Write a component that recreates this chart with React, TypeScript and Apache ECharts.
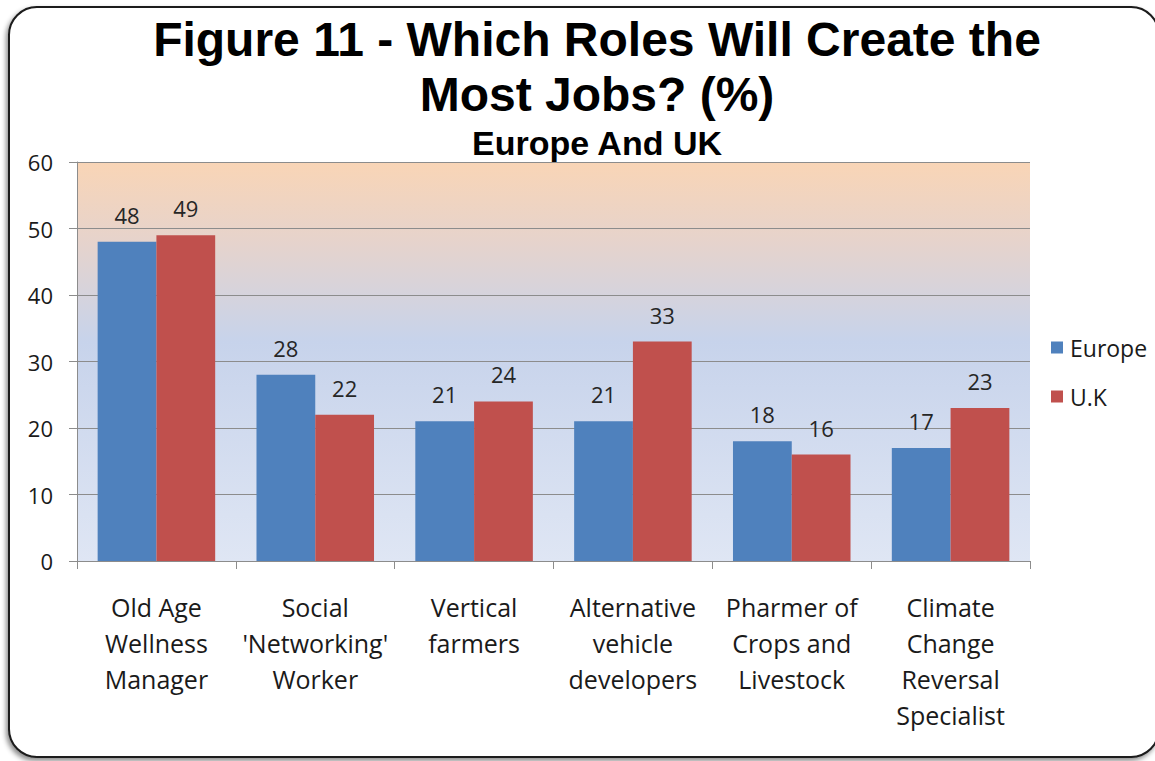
import React, { useEffect, useRef } from "react";
import * as echarts from "echarts";

const categories = [
  "Old Age\nWellness\nManager",
  "Social\n'Networking'\nWorker",
  "Vertical\nfarmers",
  "Alternative\nvehicle\ndevelopers",
  "Pharmer of\nCrops and\nLivestock",
  "Climate\nChange\nReversal\nSpecialist",
];
const europe = [48, 28, 21, 21, 18, 17];
const uk = [49, 22, 24, 33, 16, 23];
const seriesNames = ["Europe", "U.K"];

const FONT = "'Open Sans', 'Noto Sans', sans-serif";

export default function App() {
  const ref = useRef<HTMLDivElement>(null);
  useEffect(() => {
    if (!ref.current) return;
    const chart = echarts.init(ref.current, undefined, { renderer: "svg" });
    const labelStyle = {
      show: true,
      position: "top" as const,
      distance: 16,
      fontSize: 22,
      fontFamily: FONT,
      color: "#262626",
    };
    chart.setOption({
      animation: false,
      backgroundColor: "#ffffff",
      graphic: [
        {
          type: "rect",
          z: -10,
          shape: { x: 9, y: 7, width: 1150, height: 750, r: 28 },
          style: {
            fill: "#ffffff",
            stroke: "#1a1a1a",
            lineWidth: 2,
            shadowColor: "rgba(0,0,0,0.45)",
            shadowBlur: 5,
            shadowOffsetX: -2,
            shadowOffsetY: 3,
          },
        },
      ],
      title: [
        {
          text: "Figure 11 - Which Roles Will Create the\nMost Jobs? (%)",
          left: 592,
          top: 7,
          textAlign: "center",
          textStyle: {
            fontFamily: "'Liberation Sans', Arial, sans-serif",
            fontWeight: "bold",
            fontSize: 48,
            lineHeight: 55,
            color: "#000",
          },
        },
        {
          text: "Europe And UK",
          left: 592,
          top: 121,
          textAlign: "center",
          textStyle: {
            fontFamily: "'Liberation Sans', Arial, sans-serif",
            fontWeight: "bold",
            fontSize: 34,
            color: "#000",
          },
        },
      ],
      legend: {
        orient: "vertical",
        left: 1046,
        top: 331,
        itemWidth: 12,
        itemHeight: 12,
        itemGap: 26,
        icon: "rect",
        data: seriesNames,
        textStyle: { fontFamily: FONT, fontSize: 23, color: "#1a1a1a", padding: [0, 0, 0, 2] },
      },
      grid: {
        left: 77,
        top: 162,
        width: 953,
        height: 399,
        show: true,
        borderWidth: 0,
        backgroundColor: new echarts.graphic.LinearGradient(0, 0, 0, 1, [
          { offset: 0, color: "#F9D5B6" },
          { offset: 0.2, color: "#E6D3CC" },
          { offset: 0.45, color: "#C7D3EB" },
          { offset: 1, color: "#DFE6F4" },
        ]),
      },
      xAxis: {
        type: "category",
        data: categories,
        axisLine: { show: true, lineStyle: { color: "#8c8c8c", width: 1 } },
        axisTick: { show: true, length: 8, lineStyle: { color: "#8c8c8c" } },
        axisLabel: {
          interval: 0,
          margin: 28,
          fontFamily: FONT,
          fontSize: 25,
          lineHeight: 36,
          color: "#1a1a1a",
        },
      },
      yAxis: {
        type: "value",
        min: 0,
        max: 60,
        interval: 10,
        axisLine: { show: true, lineStyle: { color: "#8c8c8c", width: 1 } },
        axisTick: { show: true, length: 8, lineStyle: { color: "#8c8c8c" } },
        splitLine: { show: true, lineStyle: { color: "#8c8c8c", width: 1 } },
        axisLabel: {
          margin: 24,
          fontFamily: FONT,
          fontSize: 22,
          color: "#1a1a1a",
        },
      },
      series: [
        {
          name: seriesNames[0],
          type: "bar",
          data: europe,
          barGap: "0%",
          barCategoryGap: "26%",
          itemStyle: { color: "#4F81BD" },
          label: labelStyle,
        },
        {
          name: seriesNames[1],
          type: "bar",
          data: uk,
          itemStyle: { color: "#C0504D" },
          label: labelStyle,
        },
      ],
    });
    return () => chart.dispose();
  }, []);
  return (
    <div
      ref={ref}
      style={{ position: "fixed", left: 0, top: 0, width: 1155, height: 761 }}
    />
  );
}
